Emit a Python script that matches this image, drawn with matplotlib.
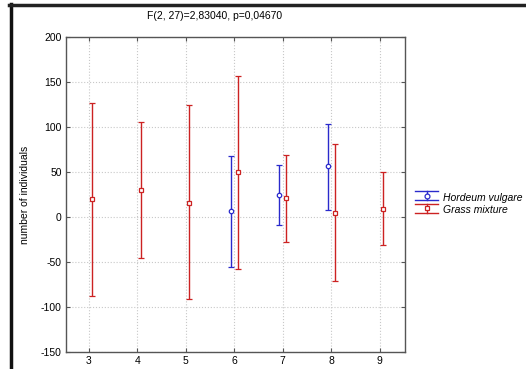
import matplotlib
matplotlib.use('Agg')
import matplotlib.pyplot as plt
from matplotlib.lines import Line2D
from matplotlib.legend_handler import HandlerBase

plt.rcParams['font.family'] = ['Liberation Sans', 'DejaVu Sans']
plt.rcParams['axes.unicode_minus'] = False

# Grass mixture (red)
grass_x = [3, 4, 5, 6, 7, 8, 9]
grass_mean = [20, 30, 16, 50, 21, 5, 9]
grass_hi = [127, 106, 124, 157, 69, 81, 50]
grass_lo = [-88, -46, -91, -58, -28, -71, -31]

# Hordeum vulgare (blue)
hord_x = [6, 7, 8]
hord_mean = [7, 25, 57]
hord_hi = [68, 58, 103]
hord_lo = [-55, -9, 8]

xticks = [3, 4, 5, 6, 7, 8, 9]
yticks = [-150, -100, -50, 0, 50, 100, 150, 200]

red = '#cc2222'
blue = '#2a2acc'
off = 0.075

fig = plt.figure(figsize=(5.26, 3.69), dpi=100)
ax = fig.add_axes([0.1255, 0.046, 0.6445, 0.8537])


def bars(xs, mean, lo, hi, dx, col, mk):
    px = [x + dx for x in xs]
    err = [[m - l for m, l in zip(mean, lo)], [h - m for m, h in zip(mean, hi)]]
    ax.errorbar(px, mean, yerr=err, fmt=mk, color=col, ecolor=col, mfc='white',
                mec=col, ms=3.2, mew=0.9, elinewidth=1, capsize=2.2, capthick=1, zorder=3)


bars(hord_x, hord_mean, hord_lo, hord_hi, -off, blue, 'o')
bars(grass_x, grass_mean, grass_lo, grass_hi, off, red, 's')

ax.set_xlim(2.53, 9.52)
ax.set_ylim(-150, 200)
ax.set_xticks(xticks)
ax.set_yticks(yticks)
ax.grid(True, color='#c8c8c8', linestyle=':', linewidth=0.8)
ax.tick_params(direction='in', length=3, labelsize=7.5, color='#555555',
               top=True, right=True, pad=3)
for s in ax.spines.values():
    s.set_color('#555555')
    s.set_linewidth(1)
ax.set_ylabel('number of individuals', fontsize=7.5, labelpad=8)

fig.text(215 / 526, 1 - 16 / 369, 'F(2, 27)=2,83040, p=0,04670', ha='center',
         va='center', fontsize=7.5)


class ErrHandle(HandlerBase):
    def __init__(self, col, mk):
        super().__init__()
        self.col, self.mk = col, mk

    def create_artists(self, legend, orig, x0, y0, w, h, fs, trans):
        cx = x0 + w / 2
        top, bot = y0 + h * 1.0, y0 + h * 0.0
        a = Line2D([x0, x0 + w], [top, top], color=self.col, lw=1, transform=trans)
        b = Line2D([x0, x0 + w], [bot, bot], color=self.col, lw=1, transform=trans)
        c = Line2D([cx, cx], [bot, top], color=self.col, lw=1, transform=trans)
        d = Line2D([cx], [y0 + h / 2], marker=self.mk, color=self.col, mfc='white',
                   ms=3.5, mew=0.9, transform=trans)
        return [a, b, c, d]


h1 = Line2D([], [], color=blue)
h2 = Line2D([], [], color=red)
fig.legend([h1, h2], ['Hordeum vulgare', 'Grass mixture'],
           handler_map={h1: ErrHandle(blue, 'o'), h2: ErrHandle(red, 's')},
           loc='center left', bbox_to_anchor=(408 / 526, 1 - 204 / 369),
           frameon=False, prop={'style': 'italic', 'size': 7.5},
           handlelength=2.2, handleheight=0.9, handletextpad=0.5,
           labelspacing=0.25, borderpad=0.2)

# window frame (thick black left/top edges)
fig.add_artist(Line2D([10.5 / 526, 10.5 / 526], [0, 1 - 3.5 / 369], color='#111111',
                      lw=2.5, transform=fig.transFigure))
fig.add_artist(Line2D([9.5 / 526, 1], [1 - 4.5 / 369, 1 - 4.5 / 369], color='#222222',
                      lw=2.5, transform=fig.transFigure))

fig.savefig('out.png', dpi=100)
